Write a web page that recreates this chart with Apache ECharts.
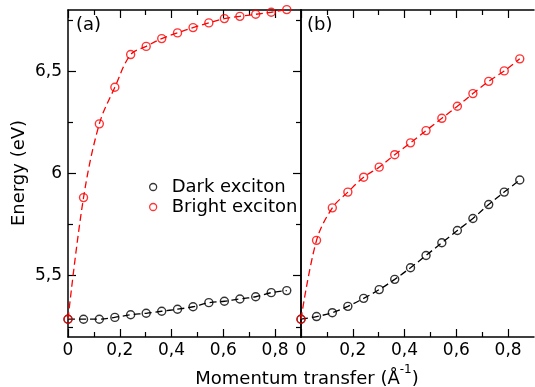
<!DOCTYPE html>
<html>
<head>
<meta charset="utf-8">
<script src="https://cdn.jsdelivr.net/npm/echarts@6/dist/echarts.min.js"></script>
<style>
  html, body { margin: 0; padding: 0; background: #fff; }
  #chart { width: 535px; height: 387px; }
</style>
</head>
<body>
<div id="chart"></div>
<script>
// Momentum transfer (1/Å) sampled for every curve
const momentum = [0, 0.06, 0.121, 0.181, 0.242, 0.302, 0.362, 0.423, 0.483, 0.544, 0.604, 0.664, 0.725, 0.785, 0.845];

// Panel (a) energies (eV)
const darkA   = [5.287, 5.287, 5.287, 5.296, 5.309, 5.316, 5.326, 5.336, 5.348, 5.368, 5.375, 5.386, 5.397, 5.417, 5.427];
const brightA = [5.287, 5.882, 6.243, 6.422, 6.582, 6.622, 6.660, 6.688, 6.714, 6.737, 6.758, 6.769, 6.779, 6.789, 6.802];

// Panel (b) energies (eV)
const darkB   = [5.287, 5.300, 5.319, 5.350, 5.389, 5.432, 5.482, 5.539, 5.599, 5.661, 5.721, 5.780, 5.848, 5.909, 5.968];
const brightB = [5.287, 5.673, 5.832, 5.909, 5.982, 6.031, 6.092, 6.150, 6.210, 6.270, 6.329, 6.391, 6.451, 6.502, 6.561];

// Axis tick positions
const xMajorTicks = [0, 0.2, 0.4, 0.6, 0.8];
const xMinorTicks = [0.1, 0.3, 0.5, 0.7];
const yMajorTicks = [5.5, 6, 6.5];
const yMinorTicks = [5.25, 5.75, 6.25, 6.75];

const FONT = 'DejaVu Sans';
const comma = v => String(Math.round(v * 10) / 10).replace('.', ',');
const pairs = ys => momentum.map((x, i) => [x, ys[i]]);

const chart = echarts.init(document.getElementById('chart'), null, { renderer: 'canvas' });

function xAxes(gridIndex) {
  const base = { type: 'value', gridIndex, min: 0, max: 0.9, splitLine: { show: false } };
  const line = { show: true, lineStyle: { color: '#000', width: 1.5 } };
  return [
    { ...base, position: 'bottom', axisLine: line,
      axisTick: { show: true, inside: true, length: 8, customValues: xMajorTicks, lineStyle: { color: '#000', width: 1.2 } },
      axisLabel: { show: true, customValues: xMajorTicks, formatter: comma, fontFamily: FONT, fontSize: 17, color: '#000', margin: 5 } },
    { ...base, position: 'bottom', axisLine: { show: false },
      axisTick: { show: true, inside: true, length: 5, customValues: xMinorTicks, lineStyle: { color: '#000', width: 1.2 } },
      axisLabel: { show: false } },
    { ...base, position: 'top', axisLine: line,
      axisTick: { show: true, inside: true, length: 8, customValues: xMajorTicks, lineStyle: { color: '#000', width: 1.2 } },
      axisLabel: { show: false } },
    { ...base, position: 'top', axisLine: { show: false },
      axisTick: { show: true, inside: true, length: 5, customValues: xMinorTicks, lineStyle: { color: '#000', width: 1.2 } },
      axisLabel: { show: false } }
  ];
}

const yBase = { type: 'value', min: 5.2, max: 6.8, splitLine: { show: false } };
const yLine = { show: true, lineStyle: { color: '#000', width: 1.5 } };

const yAxes = [
  // panel (a), left
  { ...yBase, gridIndex: 0, position: 'left', axisLine: yLine,
    axisTick: { show: true, inside: true, length: 8, customValues: yMajorTicks, lineStyle: { color: '#000', width: 1.2 } },
    axisLabel: { show: true, customValues: yMajorTicks, formatter: comma, fontFamily: FONT, fontSize: 17, color: '#000', margin: 6 } },
  { ...yBase, gridIndex: 0, position: 'left', axisLine: { show: false },
    axisTick: { show: true, inside: true, length: 5, customValues: yMinorTicks, lineStyle: { color: '#000', width: 1.2 } },
    axisLabel: { show: false } },
  // panel (b), left frame line
  { ...yBase, gridIndex: 1, position: 'left', axisLine: yLine, axisTick: { show: false }, axisLabel: { show: false } },
  // panel (b), right
  { ...yBase, gridIndex: 1, position: 'right', axisLine: yLine,
    axisTick: { show: true, inside: true, length: 8, customValues: yMajorTicks, lineStyle: { color: '#000', width: 1.2 } },
    axisLabel: { show: false } },
  { ...yBase, gridIndex: 1, position: 'right', axisLine: { show: false },
    axisTick: { show: true, inside: true, length: 5, customValues: yMinorTicks, lineStyle: { color: '#000', width: 1.2 } },
    axisLabel: { show: false } }
];

function dashed(data, color, xi, yi) {
  return {
    type: 'line', data: pairs(data), xAxisIndex: xi, yAxisIndex: yi,
    showSymbol: false, smooth: 0.35, silent: true,
    lineStyle: { color, width: 1.3, type: [7, 4] },
    z: 2
  };
}
function circles(name, data, color, xi, yi) {
  return {
    type: 'scatter', name, data: pairs(data), xAxisIndex: xi, yAxisIndex: yi,
    symbol: 'circle', symbolSize: 8, clip: false,
    itemStyle: { color: 'rgba(255,255,255,0)', borderColor: color, borderWidth: 1.4 },
    z: 3
  };
}

const RED = '#ff0000';
const BLACK = '#000000';

chart.setOption({
  animation: false,
  backgroundColor: '#fff',
  grid: [
    { left: 68, top: 10, width: 233, height: 327 },
    { left: 301, top: 10, width: 233, height: 327 }
  ],
  xAxis: [...xAxes(0), ...xAxes(1)],
  yAxis: yAxes,
  legend: {
    orient: 'vertical', left: 144, top: 173,
    itemWidth: 7, itemHeight: 7, itemGap: 2,
    textStyle: { fontFamily: FONT, fontSize: 18, color: '#000', lineHeight: 18, padding: [0, 0, 0, 10] },
    data: [
      { name: 'Dark exciton', icon: 'circle', itemStyle: { color: 'rgba(255,255,255,0)', borderColor: BLACK, borderWidth: 1.3 } },
      { name: 'Bright exciton', icon: 'circle', itemStyle: { color: 'rgba(255,255,255,0)', borderColor: RED, borderWidth: 1.3 } }
    ]
  },
  series: [
    dashed(darkA, BLACK, 0, 0),
    dashed(brightA, RED, 0, 0),
    circles('Dark exciton', darkA, BLACK, 0, 0),
    circles('Bright exciton', brightA, RED, 0, 0),
    dashed(darkB, BLACK, 4, 3),
    dashed(brightB, RED, 4, 3),
    circles('Dark exciton', darkB, BLACK, 4, 3),
    circles('Bright exciton', brightB, RED, 4, 3)
  ],
  graphic: [
    { type: 'text', left: 76, top: 16, style: { text: '(a)', font: '18px "DejaVu Sans"', fill: '#000' } },
    { type: 'text', left: 307, top: 16, style: { text: '(b)', font: '18px "DejaVu Sans"', fill: '#000' } },
    { type: 'text', x: 19, y: 173, rotation: Math.PI / 2,
      style: { text: 'Energy (eV)', font: '18px "DejaVu Sans"', fill: '#000', align: 'center', verticalAlign: 'middle' } },
    { type: 'text', x: 307, y: 376,
      style: {
        text: '{n|Momentum transfer (Å}{s|-1}{n|)}',
        align: 'center', verticalAlign: 'middle', fill: '#000',
        rich: {
          n: { fontFamily: FONT, fontSize: 18, fill: '#000', lineHeight: 24, verticalAlign: 'bottom' },
          s: { fontFamily: FONT, fontSize: 12, fill: '#000', lineHeight: 12, verticalAlign: 'top' }
        }
      } }
  ]
});
</script>
</body>
</html>
